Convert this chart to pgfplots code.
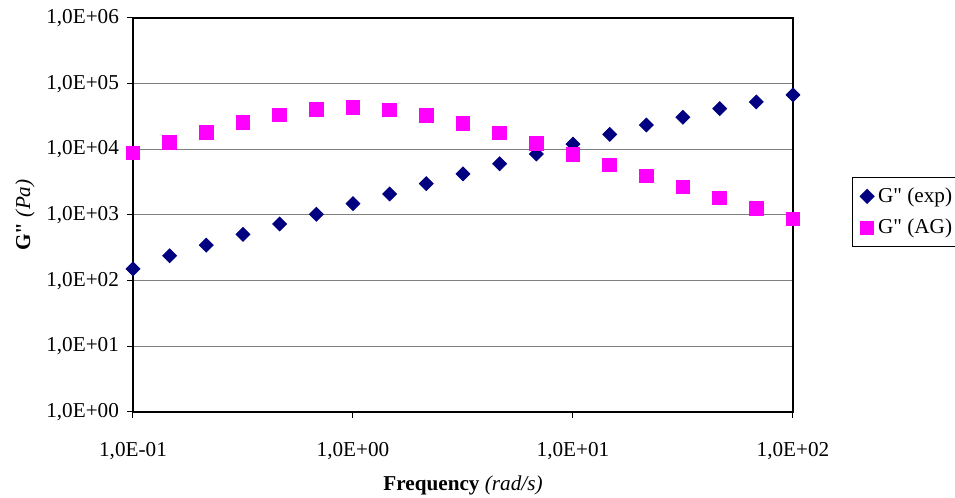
\documentclass[border=0pt]{standalone}
\usepackage{pgfplots}
\pgfplotsset{compat=1.18}
\usepackage{fontspec}
\setmainfont{Liberation Serif}[Ligatures=TeXOff]
\definecolor{expc}{HTML}{000080}
\definecolor{agc}{HTML}{FF00FF}
\definecolor{gridc}{HTML}{808080}
\newcommand{\fsz}{\fontsize{10.6}{12.7}\selectfont}
\newcommand{\dq}{\symbol{34}}
\begin{document}
\begin{tikzpicture}
\begin{axis}[
  at={(66.5pt,43pt)}, anchor=south west,
  scale only axis,
  width=330pt, height=197pt,
  xmode=log, ymode=log,
  xmin=0.1, xmax=100, ymin=1, ymax=1e6,
  xtick={0.1,1,10,100},
  xticklabels={{1,0E-01},{1,0E+00},{1,0E+01},{1,0E+02}},
  ytick={1,10,100,1000,10000,100000,1000000},
  yticklabels={{1,0E+00},{1,0E+01},{1,0E+02},{1,0E+03},{1,0E+04},{1,0E+05},{1,0E+06}},
  minor tick num=0,
  xminorticks=false, yminorticks=false,
  tick pos=left,
  tick align=outside,
  major tick length=3pt,
  tick style={black, line width=0.5pt},
  axis line style={black, line width=0.6pt},
  ymajorgrids,
  major grid style={gridc, line width=0.5pt},
  tick label style={font=\fsz},
  xticklabel style={yshift=-8.5pt},
  yticklabel style={xshift=-0.5pt},
  xlabel={\textbf{Frequency} \textit{(rad/s)}},
  ylabel={\textbf{G\dq} \textit{(Pa)}},
  label style={font=\fsz},
  xlabel style={at={(axis description cs:0.5,-0.1853)}, anchor=center},
  ylabel style={at={(axis description cs:-0.1636,0.5)}, anchor=center},
  legend style={at={(axis description cs:1.089,0.5964)}, anchor=north west,
    draw=black, line width=0.5pt, font=\fsz, row sep=3pt,
    inner xsep=4pt, inner ysep=3pt},
  legend cell align=left,
  legend image code/.code={\draw[#1] plot coordinates {(0pt,0pt)};},
]
\addplot[only marks, mark=square*, mark options={rotate=45, fill=expc, draw=expc}, mark size=2.45pt] coordinates {
(0.1,151) (0.14678,239) (0.21544,348) (0.31623,507) (0.46416,730) (0.68129,1025)
(1,1490) (1.4678,2090) (2.1544,3000) (3.1623,4230) (4.6416,6030) (6.8129,8480)
(10,12050) (14.678,16900) (21.544,23500) (31.623,30800) (46.416,41700) (68.129,52700)
(100,67600)};
\addlegendentry{G\dq\ (exp)}
\addplot[only marks, mark=square*, mark options={fill=agc, draw=agc}, mark size=3.4pt] coordinates {
(0.1,8790) (0.14678,12800) (0.21544,18200) (0.31623,25800) (0.46416,33400) (0.68129,40800)
(1,43700) (1.4678,39800) (2.1544,32600) (3.1623,24900) (4.6416,17700) (6.8129,12200)
(10,8400) (14.678,5760) (21.544,3950) (31.623,2660) (46.416,1830) (68.129,1256)
(100,870)};
\addlegendentry{G\dq\ (AG)}
\end{axis}
\pgfresetboundingbox
\useasboundingbox (0,0) rectangle (477.5pt,249pt);
\end{tikzpicture}
\end{document}
